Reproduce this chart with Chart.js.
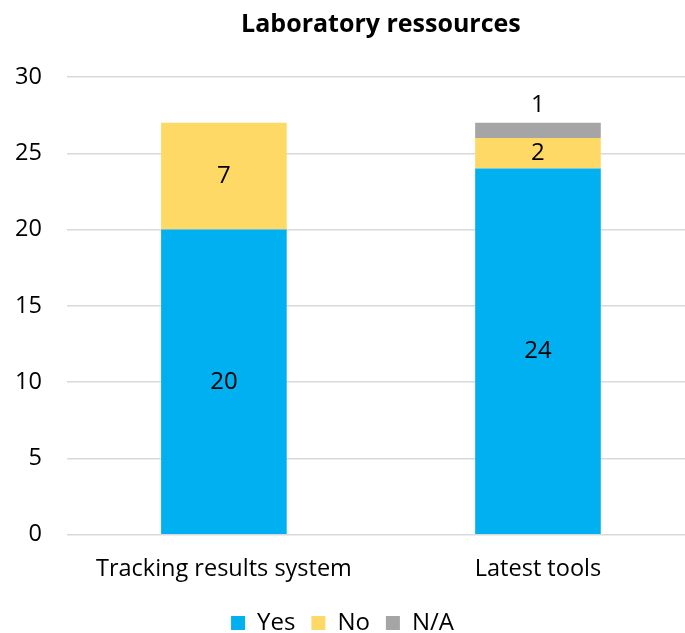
<!DOCTYPE html>
<html>
<head>
<meta charset="utf-8">
<script src="https://cdn.jsdelivr.net/npm/chart.js@4"></script>
<style>
  html, body { margin: 0; padding: 0; background: #fff; overflow: hidden; }
  #wrap { width: 695px; height: 633px; }
</style>
</head>
<body>
<div id="wrap"><canvas id="chart"></canvas></div>
<script>
const categories = ['Tracking results system', 'Latest tools'];
const yesValues = [20, 24];
const noValues = [7, 2];
const naValues = [0, 1];
const yTicks = [0, 5, 10, 15, 20, 25, 30];

const FONT = "'Open Sans', sans-serif";

// labels drawn in the middle of each segment, small ones go on top
const segmentLabels = {
    id: 'segmentLabels',
    afterDatasetsDraw(chart) {
        const ctx = chart.ctx;
        ctx.save();
        ctx.font = '24px ' + FONT;
        ctx.fillStyle = '#000';
        ctx.textAlign = 'center';
        ctx.textBaseline = 'middle';
        chart.data.datasets.forEach((ds, i) => {
            chart.getDatasetMeta(i).data.forEach((bar, j) => {
                const v = ds.data[j];
                if (!v) return;
                const h = bar.base - bar.y;
                const y = h < 20 ? bar.y - 18 : (bar.y + bar.base) / 2;
                ctx.fillText(String(v), bar.x, y);
            });
        });
        ctx.restore();
    }
};

new Chart(document.getElementById('chart'), {
    type: 'bar',
    data: {
        labels: categories,
        datasets: [
            { label: 'Yes', data: yesValues, backgroundColor: '#00B0F0' },
            { label: 'No', data: noValues, backgroundColor: '#FFD966' },
            { label: 'N/A', data: naValues, backgroundColor: '#A5A5A5' }
        ]
    },
    options: {
        responsive: true,
        maintainAspectRatio: false,
        animation: false,
        categoryPercentage: 0.4,
        barPercentage: 1,
        layout: { padding: { top: 6, left: -10, right: 0, bottom: -12 } },
        plugins: {
            title: {
                display: true,
                text: 'Laboratory ressources',
                fullSize: false,
                color: '#000',
                font: { family: FONT, size: 25, weight: 'bold' },
                padding: { top: 4, bottom: 37 }
            },
            legend: {
                position: 'bottom',
                labels: {
                    color: '#000',
                    font: { family: FONT, size: 24 },
                    boxWidth: 14,
                    boxHeight: 14,
                    padding: 16
                }
            },
            tooltip: { enabled: false }
        },
        scales: {
            x: {
                stacked: true,
                grid: { display: false },
                border: { display: false },
                ticks: { color: '#000', font: { family: FONT, size: 23.5 }, padding: 12 },
                // no extra side padding for the long first label
                afterFit(axis) { axis.paddingLeft = 0; axis.paddingRight = 0; }
            },
            y: {
                stacked: true,
                min: 0,
                max: 30,
                afterBuildTicks(axis) { axis.ticks = yTicks.map(v => ({ value: v })); },
                grid: { color: '#D9D9D9', lineWidth: 1.5, drawTicks: false },
                border: { display: false },
                ticks: { color: '#000', font: { family: FONT, size: 23.5 }, padding: 25 }
            }
        }
    },
    plugins: [segmentLabels]
});
</script>
</body>
</html>
